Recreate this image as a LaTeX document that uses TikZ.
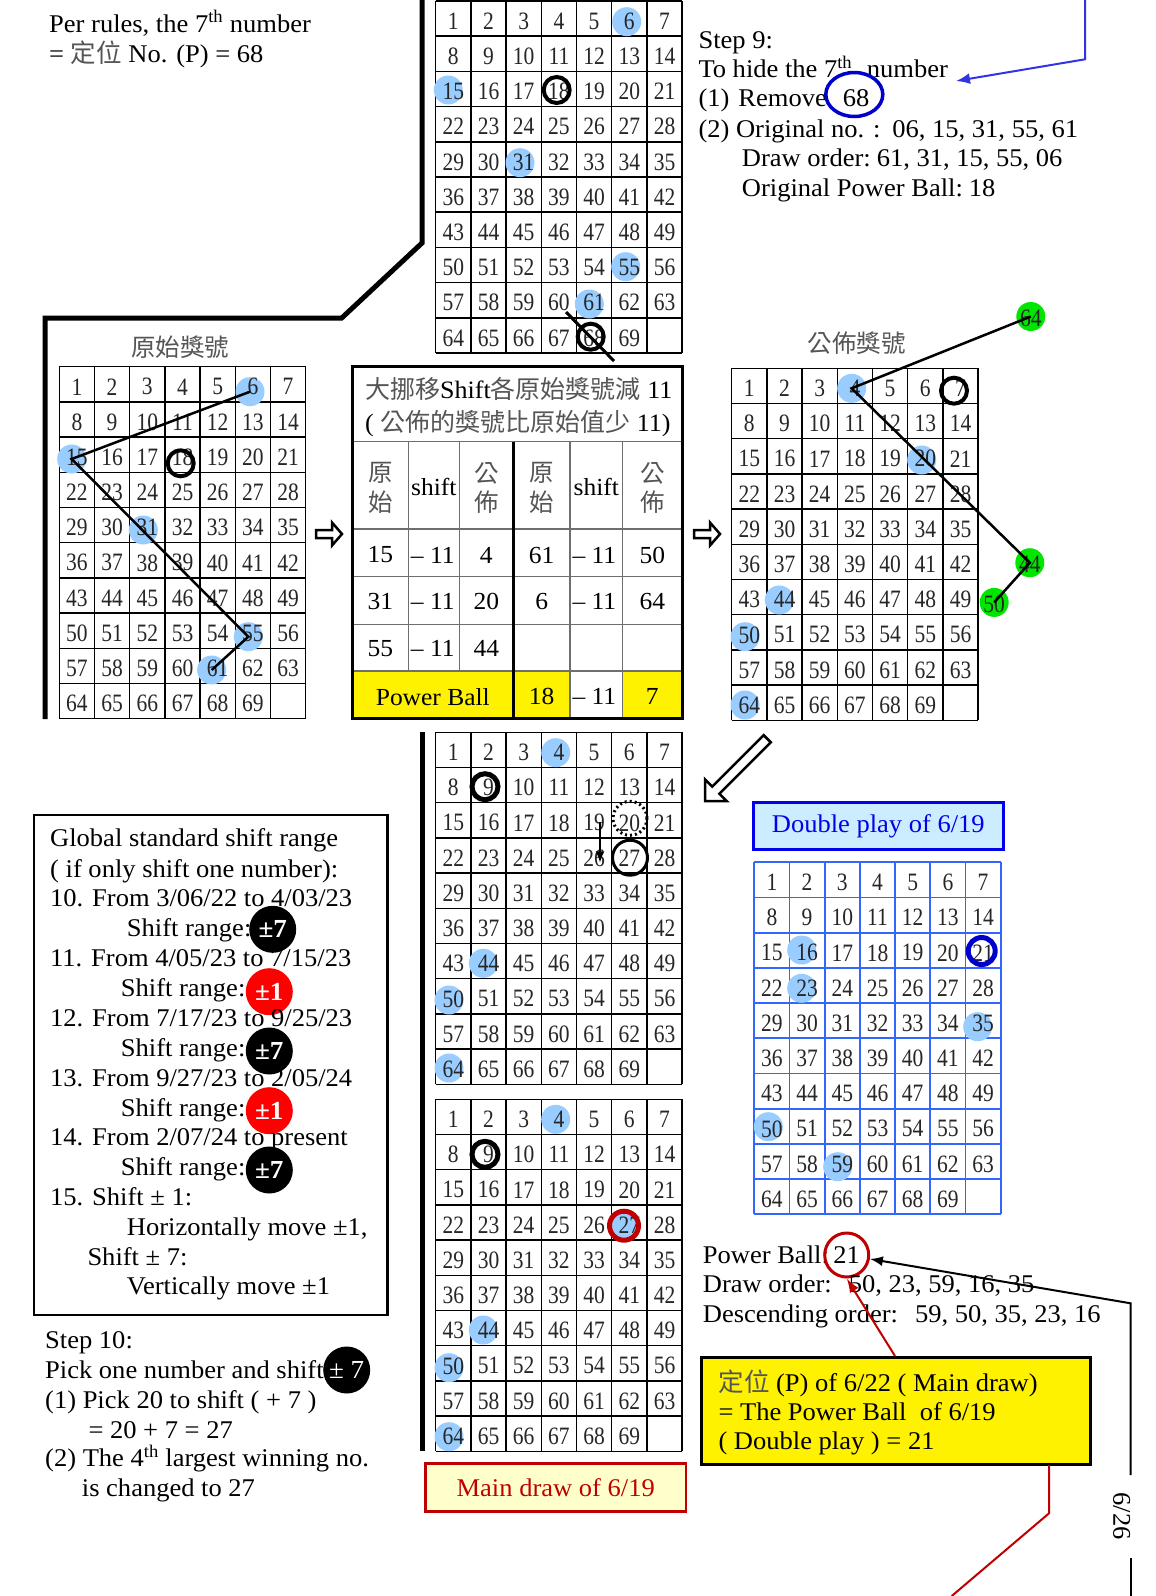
\documentclass[tikz,border=0pt]{standalone}
\usepackage{fontspec}
\setmainfont[FakeStretch=1.04]{Liberation Serif}
\newfontfamily\cjk{Noto Sans CJK TC}
\newfontfamily\gridfont[FakeStretch=0.86]{Liberation Serif}
\usetikzlibrary{arrows.meta,shapes.geometric}
\definecolor{lblue}{RGB}{153,204,255}
\definecolor{dred}{RGB}{192,0,0}
\definecolor{gblue}{RGB}{51,102,255}
\definecolor{tblue}{RGB}{0,0,235}
\definecolor{ringblue}{RGB}{0,0,204}
\definecolor{lgreen}{RGB}{0,230,0}
\definecolor{pblue}{RGB}{204,236,255}
\definecolor{pyel}{RGB}{255,255,204}
\definecolor{cjkgray}{RGB}{85,85,85}
\definecolor{arrblue}{RGB}{51,51,230}
\definecolor{tgray}{RGB}{110,110,110}
\newcommand{\cj}[1]{{\cjk\color{cjkgray}#1}}
\newcommand{\lottogrid}[2]{%
  \foreach \gi in {0,...,7}{\draw[gridline] ({#1+\gi*35.2},{#2}) -- ({#1+\gi*35.2},{#2+352});}
  \foreach \gj in {0,...,10}{\draw[gridline] ({#1},{#2+\gj*35.2}) -- ({#1+246.4},{#2+\gj*35.2});}
}
\newcommand{\lottonums}[3]{%
  \foreach \gr in {0,...,9}{%
    \foreach \gc in {0,...,6}{%
      \pgfmathtruncatemacro{\gn}{\gr*7+\gc+1}%
      \ifnum\gn<70
        \node[num] (#3-\gn) at ({#1+35.2*(\gc+0.5)},{#2+35.2*(\gr+0.5)+2.5}) {\gn};
      \fi
    }%
  }%
}
\begin{document}
\begin{tikzpicture}[x=1pt,y=-1pt,
  txt/.style={anchor=base west,inner sep=0pt,font=\fontsize{25.5}{30}\selectfont},
  num/.style={inner sep=0pt,font=\gridfont\fontsize{25}{25}\selectfont,text=black!85},
  tnum/.style={inner sep=0pt,font=\fontsize{24.5}{28}\selectfont},
  tcj/.style={inner sep=0pt,font=\cjk\fontsize{24.5}{28}\selectfont,text=cjkgray},
  gridline/.style={draw=black,line width=1.5pt},
  bluedot/.style={circle,fill=lblue,minimum size=29pt,inner sep=0pt},
  greendot/.style={circle,fill=lgreen,minimum size=29pt,inner sep=0pt},
  ring/.style={circle,draw=black,line width=4pt,minimum size=26pt,inner sep=0pt},
  badge/.style={circle,fill=black,text=white,minimum size=47pt,inner sep=0pt,font=\bfseries\fontsize{26}{26}\selectfont},
  redbadge/.style={badge,fill=red},
  tline/.style={draw=tgray,line width=1.5pt},
  hollow/.style={draw=black,line width=2.5pt,line join=miter,fill=white}
]
\fill[white] (0,0) rectangle (1156,1596);
\useasboundingbox (0,0) rectangle (1156,1596);

% ---------- top-left text ----------
\node[txt] (t1) at (49,32) {Per rules, the 7\textsuperscript{th} number};
\node[txt] (t2) at (49,62) {= \cj{定位} No. (P) = 68};

% ---------- thick frame ----------
\coordinate (f1) at (45,719);
\coordinate (f2) at (45,318);
\coordinate (f3) at (341.7,318);
\coordinate (f4) at (422,243);
\coordinate (f5) at (422,0);
\draw[line width=5pt,line join=miter] (f1) -- (f2) -- (f3) -- (f4) -- (f5);
\coordinate (m1) at (422.3,732);
\coordinate (m2) at (422.3,1451);
\draw[line width=5pt] (m1) -- (m2);

% ---------- top grid ----------
\lottogrid{435.7}{1}
\node[bluedot] (T6) at (626.7,21.7) {};
\node[bluedot] (T15) at (448.3,90) {};
\node[bluedot] (T31) at (520,162.7) {};
\node[bluedot] (T55) at (625.7,266.7) {};
\node[bluedot] (T61) at (589.3,304) {};
\lottonums{435.7}{1}{T}
\node[ring] (T18r) at (556.7,90) {};
\node[ring] (T68r) at (590.7,336.7) {};
\coordinate (x1) at (566,312);
\coordinate (x2) at (614,361);
\draw[line width=3pt] (x1) -- (x2);

% ---------- step 9 ----------
\node[txt] (s1) at (698.3,48.3) {Step 9:};
\node[txt] (s2) at (698.3,77.3) {To hide the 7\textsuperscript{th}\hspace{8pt} number};
\node[txt] (s3) at (698.3,106.7) {(1)\hspace{9pt}Remove};
\node[txt] (s3b) at (842.7,106.7) {68};
\node[ellipse,draw=ringblue,line width=3.5pt,minimum width=57pt,minimum height=44pt,inner sep=0pt] (e68) at (854.3,94.5) {};
\node[txt] (s4) at (698.3,137) {(2) Original no. :\hspace{12pt}06, 15, 31, 55, 61};
\node[txt] (s5) at (741.7,166.7) {Draw order:\hspace{6pt}61, 31, 15, 55, 06};
\node[txt] (s6) at (741.7,196.7) {Original Power Ball:\hspace{6pt}18};
\coordinate (b1) at (1085,0);
\coordinate (b2) at (1085,59.3);
\coordinate (b3) at (956,81);
\draw[arrblue,line width=2pt,-{Latex[length=14pt,width=11pt]}] (b1) -- (b2) -- (b3);

% ---------- left grid ----------
\node[inner sep=0pt,font=\cjk\fontsize{24.5}{28}\selectfont,text=cjkgray] (ltitle) at (180,346.7) {原始獎號};
\lottogrid{59.3}{366.7}
\node[bluedot] (L6) at (250,391.7) {};
\node[bluedot] (L15) at (71.7,459) {};
\node[bluedot] (L31) at (143.3,530) {};
\node[bluedot] (L55) at (248.3,636.7) {};
\node[bluedot] (L61) at (211.7,670) {};
\lottonums{59.3}{366.7}{L}
\node[ring] (L18r) at (180.7,463.3) {};
\draw[line width=2.5pt,line join=miter] (L6.center) -- (L15.center) -- (L55.center) -- (L61.center);

% hollow arrows
\draw[hollow] (316,530) -- (332,530) -- (332,522.5) -- (342,534) -- (332,545.5) -- (332,538) -- (316,538) -- cycle;
\draw[hollow] (694,530) -- (710,530) -- (710,522.5) -- (720,534) -- (710,545.5) -- (710,538) -- (694,538) -- cycle;

% ---------- shift table ----------
\fill[yellow] (352.3,671) rectangle (570,718.5);
\fill[yellow] (622.7,671) rectangle (682,718.5);
\draw[tline] (352.3,441.7) -- (682,441.7);
\draw[tline] (352.3,529) -- (682,529);
\draw[tline] (352.3,576.7) -- (682,576.7);
\draw[tline] (352.3,624.3) -- (682,624.3);
\draw[tline] (352.3,671) -- (682,671);
\draw[tline] (408.3,441.7) -- (408.3,671);
\draw[tline] (459.3,441.7) -- (459.3,671);
\draw[tline] (570,441.7) -- (570,718.5);
\draw[tline] (622.7,441.7) -- (622.7,718.5);
\draw[line width=3pt] (513.3,441.7) -- (513.3,718.5);
\draw[line width=3pt] (352.3,366) rectangle (682,718.5);
\node[txt,font=\fontsize{25}{30}\selectfont] (h1) at (365,398) {\cj{大挪移}Shift\cj{各原始獎號減} 11};
\node[txt,font=\fontsize{25}{30}\selectfont] (h2) at (365,431.7) {( \cj{公佈的獎號比原始值少} 11)};
\node[tcj] (c1a) at (380.3,473.3) {原};
\node[tcj] (c1b) at (380.3,501.7) {始};
\node[tnum] (c2) at (433.8,486.7) {shift};
\node[tcj] (c3a) at (486.3,473.3) {公};
\node[tcj] (c3b) at (486.3,501.7) {佈};
\node[tcj] (c4a) at (541.7,473.3) {原};
\node[tcj] (c4b) at (541.7,501.7) {始};
\node[tnum] (c5) at (596.3,486.7) {shift};
\node[tcj] (c6a) at (652.3,473.3) {公};
\node[tcj] (c6b) at (652.3,501.7) {佈};
\node[tnum] (r1a) at (380.3,555) {15};
\node[tnum,anchor=west] (r1b) at (410.7,555) {– 11};
\node[tnum] (r1c) at (486.3,555) {4};
\node[tnum] (r1d) at (541.7,555) {61};
\node[tnum,anchor=west] (r1e) at (572.3,555) {– 11};
\node[tnum] (r1f) at (652.3,555) {50};
\node[tnum] (r2a) at (380.3,601.7) {31};
\node[tnum,anchor=west] (r2b) at (410.7,601.7) {– 11};
\node[tnum] (r2c) at (486.3,601.7) {20};
\node[tnum] (r2d) at (541.7,601.7) {6};
\node[tnum,anchor=west] (r2e) at (572.3,601.7) {– 11};
\node[tnum] (r2f) at (652.3,601.7) {64};
\node[tnum] (r3a) at (380.3,648.3) {55};
\node[tnum,anchor=west] (r3b) at (410.7,648.3) {– 11};
\node[tnum] (r3c) at (486.3,648.3) {44};
\node[tnum] (pb) at (432.8,696.7) {Power Ball};
\node[tnum] (pb1) at (541.7,696.7) {18};
\node[tnum,anchor=west] (pb2) at (572.3,696.7) {– 11};
\node[tnum] (pb3) at (652.3,696.7) {7};

% ---------- right grid ----------
\node[inner sep=0pt,font=\cjk\fontsize{24.5}{28}\selectfont,text=cjkgray] (rtitle) at (856.7,343.3) {公佈獎號};
\lottogrid{731.7}{368.3}
\node[bluedot] (R4) at (851.7,388.3) {};
\node[bluedot] (R20) at (921.7,460) {};
\node[bluedot] (R44) at (779.3,600) {};
\node[bluedot] (R50) at (745,636.7) {};
\node[bluedot] (R64) at (745,705) {};
\lottonums{731.7}{368.3}{R}
\node[ring] (R7r) at (954,390.7) {};
\node[greendot] (G64) at (1030.8,316.5) {};
\node[greendot] (G44) at (1029.8,562.7) {};
\node[greendot] (G50) at (994.2,602.4) {};
\node[num] (G64t) at (1030.8,318) {64};
\node[num] (G44t) at (1029.8,564) {44};
\node[num] (G50t) at (994.2,604) {50};
\draw[line width=2.5pt,line join=miter] (G64.center) -- (R4.center) -- (G44.center) -- (G50.center);

% diagonal hollow arrow
\draw[hollow] (705,801) -- (705,779.4) -- (712.3,786.6) -- (763.7,735.2) -- (770.8,742.3) -- (719.4,793.7) -- (726.6,801) -- cycle;

% ---------- middle grid 1 ----------
\lottogrid{435.7}{732.3}
\node[bluedot] (M4) at (555.7,752.7) {};
\node[bluedot] (M44) at (483.3,963.3) {};
\node[bluedot] (M50) at (449,1000) {};
\node[bluedot] (M64) at (449,1068) {};
\lottonums{435.7}{732.3}{M}
\node[ring,line width=5pt] (M9r) at (485,786.7) {};
\node[circle,draw=black,line width=3pt,dash pattern=on 2pt off 3pt,minimum size=34pt,inner sep=0pt] (M20r) at (630,818.3) {};
\node[circle,draw=black,line width=3pt,minimum size=35pt,inner sep=0pt] (M27r) at (630,857.7) {};
\coordinate (a1) at (600,821.7);
\coordinate (a2) at (600,863.3);
\draw[line width=2.5pt,-{Latex[length=12pt,width=9pt]}] (a1) -- (a2);

% ---------- middle grid 2 ----------
\lottogrid{435.7}{1099.3}
\node[bluedot] (N4) at (555.7,1119.3) {};
\node[bluedot] (N44) at (483.3,1330) {};
\node[bluedot] (N50) at (449,1367.7) {};
\node[bluedot] (N64) at (449,1436.7) {};
\node[bluedot] (N27) at (624,1225.7) {};
\lottonums{435.7}{1099.3}{N}
\node[ring,line width=5pt] (N9r) at (485,1154.3) {};
\node[ring,draw=dred,line width=5pt,minimum size=29pt] (N27r) at (624,1225.7) {};
\node[draw=dred,fill=pyel,line width=2.5pt,minimum width=260.5pt,minimum height=47.9pt,inner sep=0pt,text=dred,font=\fontsize{25.5}{30}\selectfont] (main) at (555.7,1487.3) {Main draw of 6/19};

% ---------- double play ----------
\node[draw=tblue,fill=pblue,line width=3pt,minimum width=250pt,minimum height=46.6pt,inner sep=0pt,text=tblue,font=\fontsize{25.5}{30}\selectfont] (dp) at (878.3,826) {Double play of 6/19};
\tikzset{gridline/.style={draw=gblue,line width=1.8pt}}
\lottogrid{754.3}{862.3}
\node[bluedot] (B16) at (801.7,950) {};
\node[bluedot] (B23) at (801.7,988.3) {};
\node[bluedot] (B35) at (977.7,1026.7) {};
\node[bluedot] (B50) at (768.3,1126.7) {};
\node[bluedot] (B59) at (837.7,1166.7) {};
\lottonums{754.3}{862.3}{B}
\node[ring,draw=ringblue,line width=5pt,minimum size=27pt] (B21r) at (981.7,951) {};

% ---------- bottom right texts ----------
\node[txt] (p1) at (702.7,1263.3) {Power Ball:};
\node[circle,draw=dred,line width=3pt,minimum size=44pt,inner sep=0pt,font=\fontsize{25.5}{30}\selectfont] (rc21) at (846.7,1255) {21};
\node[txt] (p2) at (702.7,1292.7) {Draw order:\hspace{17pt}50, 23, 59, 16, 35};
\node[txt] (p3) at (702.7,1322.7) {Descending order:\hspace{17pt}59, 50, 35, 23, 16};
\node[draw=black,fill=yellow,line width=3pt,minimum width=388.3pt,minimum height=106.6pt,inner sep=0pt] (ybox) at (895.85,1411) {};
\node[txt] (y1) at (718.3,1391.7) {\cj{定位} (P) of 6/22 ( Main draw)};
\node[txt] (y2) at (718.3,1420) {= The Power Ball\ \ of 6/19};
\node[txt] (y3) at (718.3,1449.3) {( Double play ) = 21};
\coordinate (k1) at (1130.7,1475);
\coordinate (k2) at (1130.7,1303.3);
\draw[line width=2pt,-{Latex[length=13pt,width=10pt]}] (k1) -- (k2) -- (rc21);
\coordinate (k3) at (1130.7,1558);
\coordinate (k4) at (1130.7,1596);
\draw[line width=2pt] (k3) -- (k4);
\node[rotate=-90,inner sep=0pt,font=\fontsize{25.5}{30}\selectfont] (d626) at (1121.7,1516) {6/26};
\coordinate (ra) at (895,1356);
\draw[dred,line width=2pt,-{Latex[length=14pt,width=10pt]}] (ra) -- (rc21.south);
\coordinate (q1) at (1049,1465);
\coordinate (q2) at (1049,1513.3);
\coordinate (q3) at (951.7,1596);
\draw[dred,line width=2pt] (q1) -- (q2) -- (q3);

% ---------- left box ----------
\node[draw=black,line width=2.5pt,minimum width=353.3pt,minimum height=500pt,inner sep=0pt] (gbox) at (210.65,1065) {};
\node[txt] (g1) at (50,846.7) {Global standard shift range};
\node[txt] (g2) at (50,877.3) {( if only shift one number):};
\node[txt] (g3) at (50,906.7) {10. From 3/06/22 to 4/03/23};
\node[txt] (g4) at (126.7,936.7) {Shift range:};
\node[badge] (bd1) at (272.7,929.3) {±7};
\node[txt] (g5) at (50,966) {11. From 4/05/23 to 7/15/23};
\node[txt] (g6) at (120.7,996) {Shift range:};
\node[redbadge] (bd2) at (269.3,991.7) {±1};
\node[txt] (g7) at (50,1026) {12. From 7/17/23 to 9/25/23};
\node[txt] (g8) at (120.7,1056) {Shift range:};
\node[badge] (bd3) at (269.3,1051) {±7};
\node[txt] (g9) at (50,1086) {13. From 9/27/23 to 2/05/24};
\node[txt] (g10) at (120.7,1116) {Shift range:};
\node[redbadge] (bd4) at (269.3,1110.7) {±1};
\node[txt] (g11) at (50,1145) {14. From 2/07/24 to present};
\node[txt] (g12) at (120.7,1175) {Shift range:};
\node[badge] (bd5) at (269.3,1170) {±7};
\node[txt] (g13) at (50,1205) {15. Shift ± 1:};
\node[txt] (g14) at (126.7,1235) {Horizontally move ±1,};
\node[txt] (g15) at (87.3,1265) {Shift ± 7:};
\node[txt] (g16) at (126.7,1294) {Vertically move ±1};

% ---------- step 10 ----------
\node[txt] (u1) at (45,1348.3) {Step 10:};
\node[txt] (u2) at (45,1378.3) {Pick one number and shift};
\node[badge,font=\fontsize{26}{26}\selectfont] (bd6) at (346.7,1370) {± 7};
\node[txt] (u3) at (45,1408.3) {(1) Pick 20 to shift ( + 7 )};
\node[txt] (u4) at (88.3,1438.3) {= 20 + 7 = 27};
\node[txt] (u5) at (45,1466.7) {(2) The 4\textsuperscript{th} largest winning no.};
\node[txt] (u6) at (81.7,1496.7) {is changed to 27};
\end{tikzpicture}
\end{document}
